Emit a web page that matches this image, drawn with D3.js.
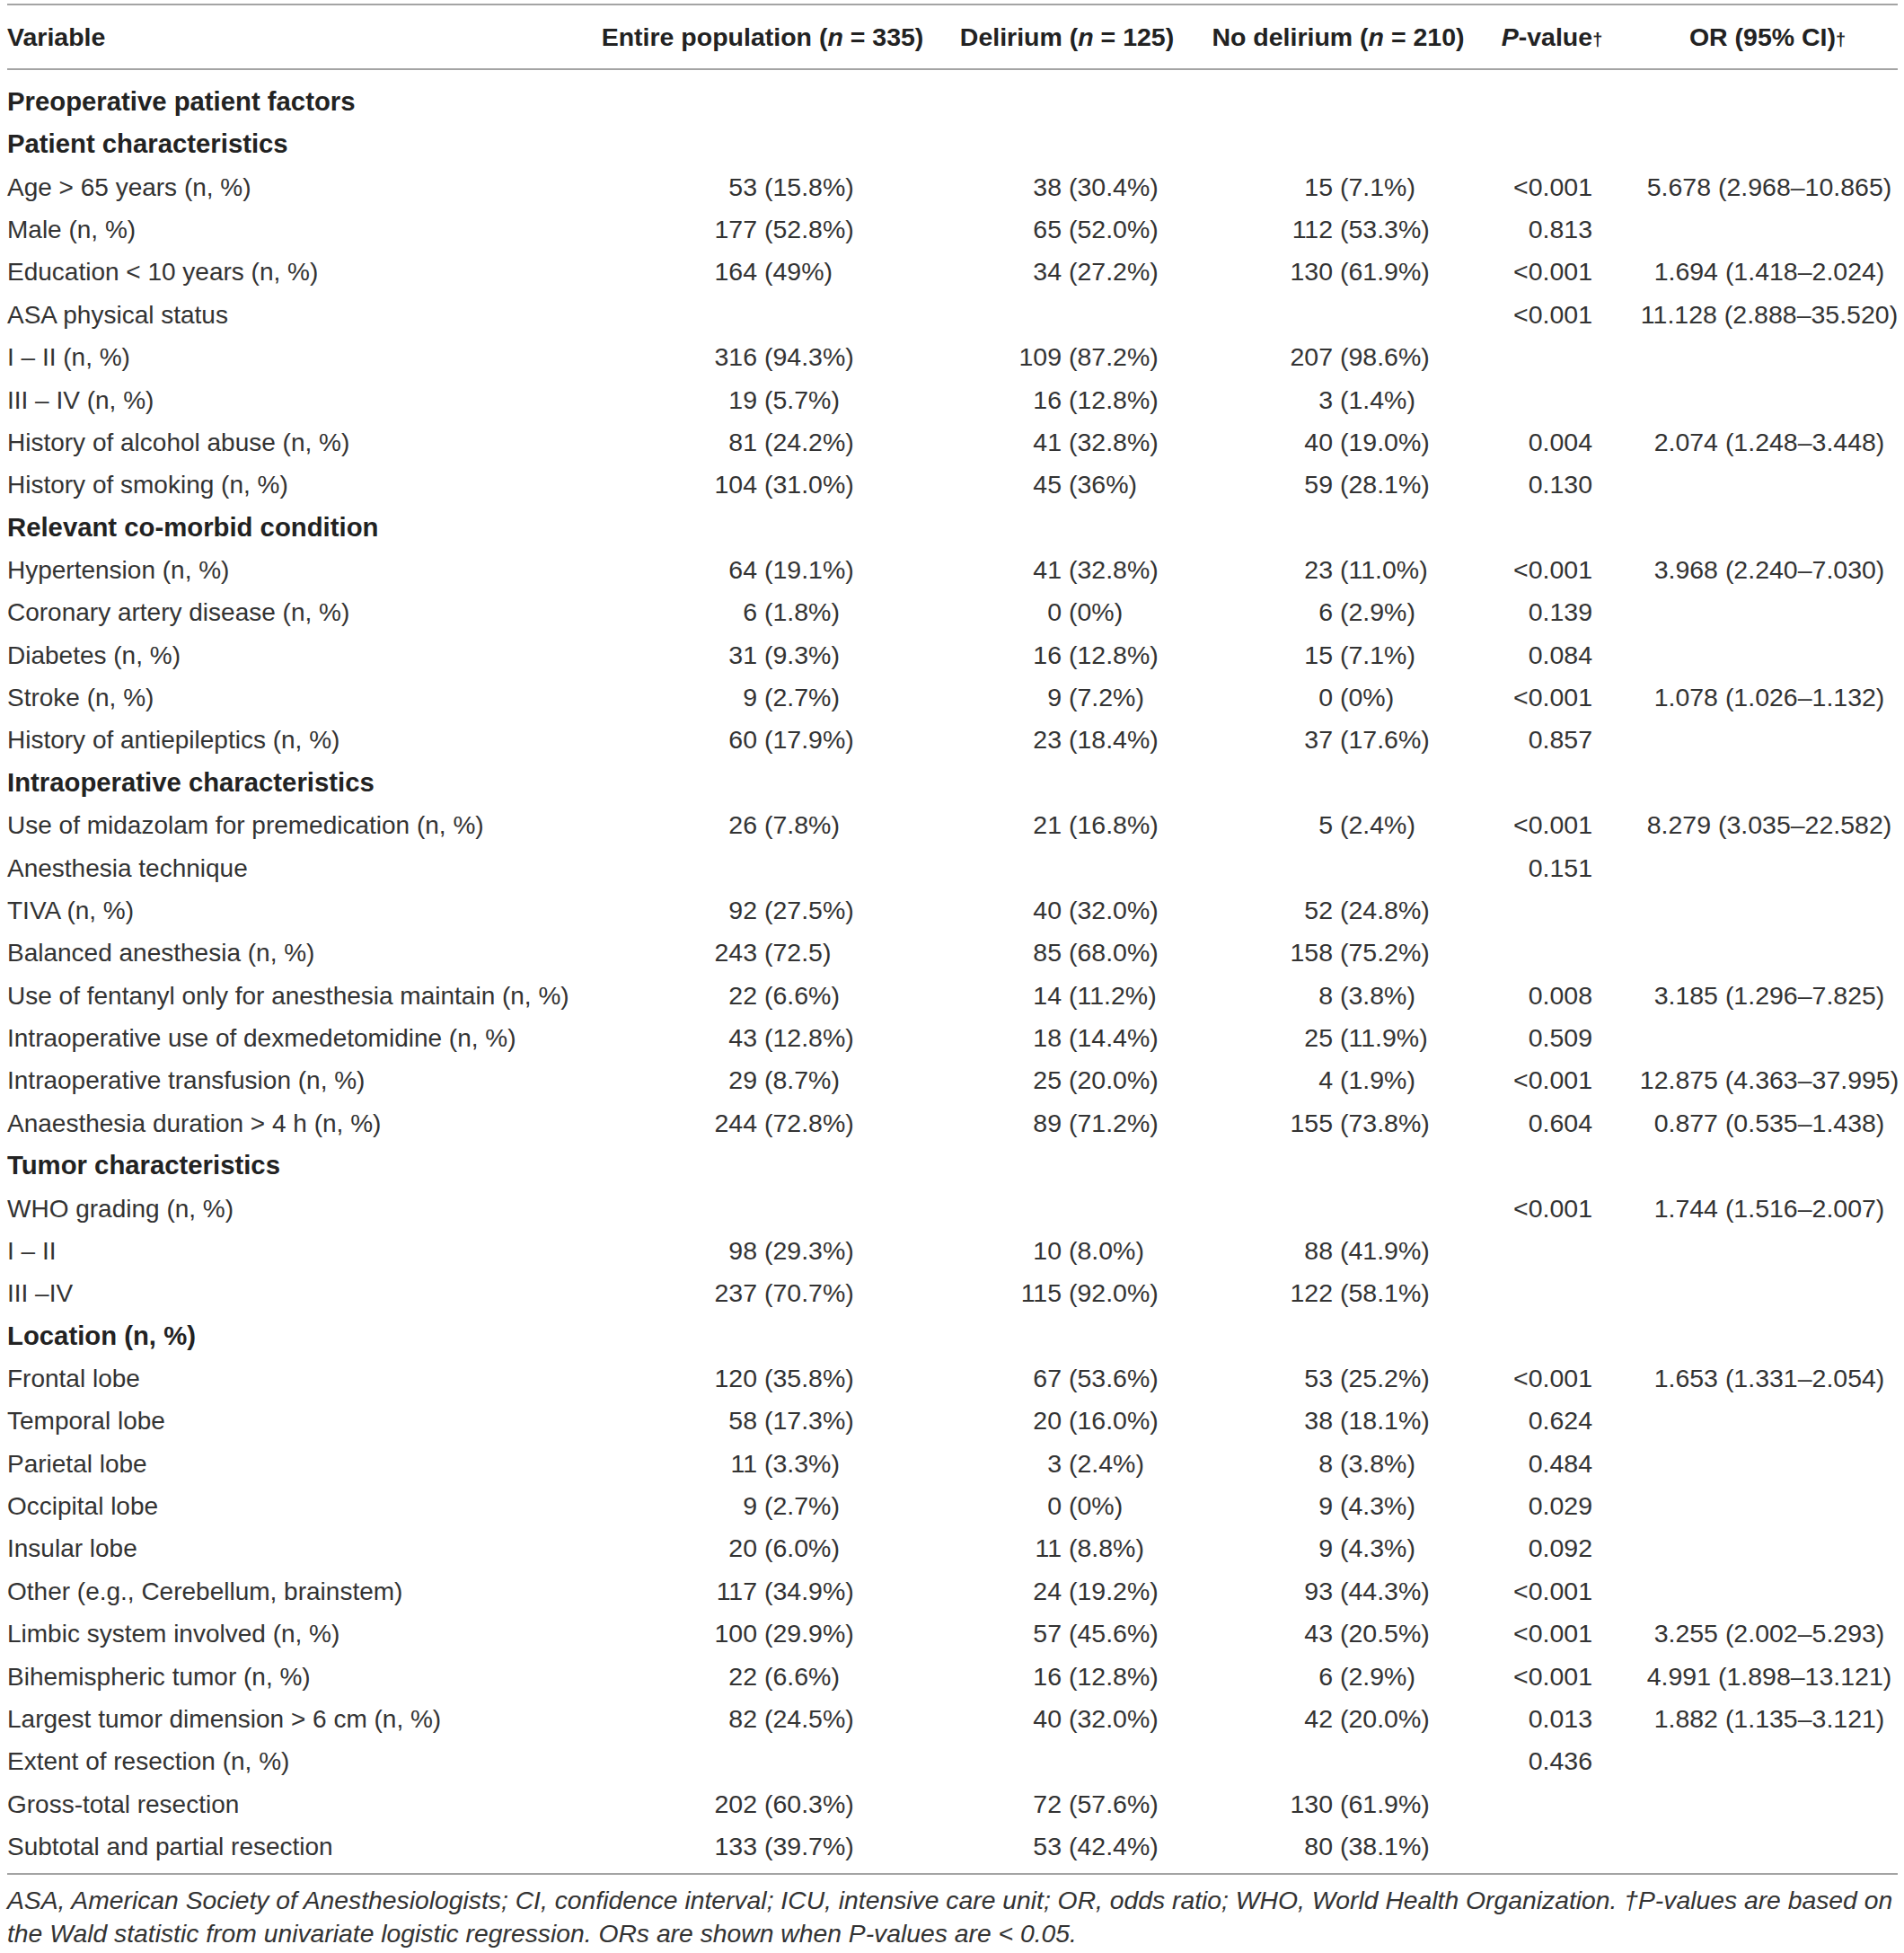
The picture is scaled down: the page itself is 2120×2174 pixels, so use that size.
<!DOCTYPE html>
<html>
<head>
<meta charset="utf-8">
<script src="https://cdn.jsdelivr.net/npm/d3@7"></script>
<style>
  body { margin: 0; background: #fff; }
  text { font-family: "Liberation Sans", Arial, sans-serif; }
</style>
</head>
<body>
<div id="chart"></div>
<script>
var variables = [
  "Preoperative patient factors",
  "Patient characteristics",
  "Age > 65 years (n, %)",
  "Male (n, %)",
  "Education < 10 years (n, %)",
  "ASA physical status",
  "I – II (n, %)",
  "III – IV (n, %)",
  "History of alcohol abuse (n, %)",
  "History of smoking (n, %)",
  "Relevant co-morbid condition",
  "Hypertension (n, %)",
  "Coronary artery disease (n, %)",
  "Diabetes (n, %)",
  "Stroke (n, %)",
  "History of antiepileptics (n, %)",
  "Intraoperative characteristics",
  "Use of midazolam for premedication (n, %)",
  "Anesthesia technique",
  "TIVA (n, %)",
  "Balanced anesthesia (n, %)",
  "Use of fentanyl only for anesthesia maintain (n, %)",
  "Intraoperative use of dexmedetomidine (n, %)",
  "Intraoperative transfusion (n, %)",
  "Anaesthesia duration > 4 h (n, %)",
  "Tumor characteristics",
  "WHO grading (n, %)",
  "I – II",
  "III –IV",
  "Location (n, %)",
  "Frontal lobe",
  "Temporal lobe",
  "Parietal lobe",
  "Occipital lobe",
  "Insular lobe",
  "Other (e.g., Cerebellum, brainstem)",
  "Limbic system involved (n, %)",
  "Bihemispheric tumor (n, %)",
  "Largest tumor dimension > 6 cm (n, %)",
  "Extent of resection (n, %)",
  "Gross-total resection",
  "Subtotal and partial resection"
];

// section heading rows (bold)
var sections = [
  "Preoperative patient factors",
  "Patient characteristics",
  "Relevant co-morbid condition",
  "Intraoperative characteristics",
  "Tumor characteristics",
  "Location (n, %)"
];

var entire = [
  "", "", "53 (15.8%)", "177 (52.8%)", "164 (49%)", "", "316 (94.3%)", "19 (5.7%)",
  "81 (24.2%)", "104 (31.0%)", "", "64 (19.1%)", "6 (1.8%)", "31 (9.3%)", "9 (2.7%)",
  "60 (17.9%)", "", "26 (7.8%)", "", "92 (27.5%)", "243 (72.5)", "22 (6.6%)",
  "43 (12.8%)", "29 (8.7%)", "244 (72.8%)", "", "", "98 (29.3%)", "237 (70.7%)", "",
  "120 (35.8%)", "58 (17.3%)", "11 (3.3%)", "9 (2.7%)", "20 (6.0%)", "117 (34.9%)",
  "100 (29.9%)", "22 (6.6%)", "82 (24.5%)", "", "202 (60.3%)", "133 (39.7%)"
];

var delirium = [
  "", "", "38 (30.4%)", "65 (52.0%)", "34 (27.2%)", "", "109 (87.2%)", "16 (12.8%)",
  "41 (32.8%)", "45 (36%)", "", "41 (32.8%)", "0 (0%)", "16 (12.8%)", "9 (7.2%)",
  "23 (18.4%)", "", "21 (16.8%)", "", "40 (32.0%)", "85 (68.0%)", "14 (11.2%)",
  "18 (14.4%)", "25 (20.0%)", "89 (71.2%)", "", "", "10 (8.0%)", "115 (92.0%)", "",
  "67 (53.6%)", "20 (16.0%)", "3 (2.4%)", "0 (0%)", "11 (8.8%)", "24 (19.2%)",
  "57 (45.6%)", "16 (12.8%)", "40 (32.0%)", "", "72 (57.6%)", "53 (42.4%)"
];

var noDelirium = [
  "", "", "15 (7.1%)", "112 (53.3%)", "130 (61.9%)", "", "207 (98.6%)", "3 (1.4%)",
  "40 (19.0%)", "59 (28.1%)", "", "23 (11.0%)", "6 (2.9%)", "15 (7.1%)", "0 (0%)",
  "37 (17.6%)", "", "5 (2.4%)", "", "52 (24.8%)", "158 (75.2%)", "8 (3.8%)",
  "25 (11.9%)", "4 (1.9%)", "155 (73.8%)", "", "", "88 (41.9%)", "122 (58.1%)", "",
  "53 (25.2%)", "38 (18.1%)", "8 (3.8%)", "9 (4.3%)", "9 (4.3%)", "93 (44.3%)",
  "43 (20.5%)", "6 (2.9%)", "42 (20.0%)", "", "130 (61.9%)", "80 (38.1%)"
];

var pValues = [
  "", "", "<0.001", "0.813", "<0.001", "<0.001", "", "", "0.004", "0.130", "",
  "<0.001", "0.139", "0.084", "<0.001", "0.857", "", "<0.001", "0.151", "", "",
  "0.008", "0.509", "<0.001", "0.604", "", "<0.001", "", "", "", "<0.001", "0.624",
  "0.484", "0.029", "0.092", "<0.001", "<0.001", "<0.001", "0.013", "0.436", "", ""
];

var orValues = [
  "", "", "5.678 (2.968–10.865)", "", "1.694 (1.418–2.024)", "11.128 (2.888–35.520)",
  "", "", "2.074 (1.248–3.448)", "", "", "3.968 (2.240–7.030)", "", "",
  "1.078 (1.026–1.132)", "", "", "8.279 (3.035–22.582)", "", "", "", "3.185 (1.296–7.825)",
  "", "12.875 (4.363–37.995)", "0.877 (0.535–1.438)", "", "1.744 (1.516–2.007)", "", "",
  "", "1.653 (1.331–2.054)", "", "", "", "", "", "3.255 (2.002–5.293)",
  "4.991 (1.898–13.121)", "1.882 (1.135–3.121)", "", "", ""
];

var footnotes = [
  "ASA, American Society of Anesthesiologists; CI, confidence interval; ICU, intensive care unit; OR, odds ratio; WHO, World Health Organization. †P-values are based on",
  "the Wald statistic from univariate logistic regression. ORs are shown when P-values are < 0.05."
];

var width = 2120;
var height = 2174;
var fontSize = 28.5;
var labelSize = 28;
var sectionSize = 29.3;
var textColor = "#333";
var boldColor = "#222";
var ruleColor = "#a4a4a4";
var left = 8, right = 2113;

var svg = d3.select("#chart").append("svg")
  .attr("width", width)
  .attr("height", height)
  .style("font-size", fontSize + "px");

var yScale = d3.scalePoint()
  .domain(d3.range(variables.length))
  .range([123, 2065]);

// header
var header = svg.append("g").attr("class", "header")
  .attr("font-weight", "bold")
  .attr("fill", boldColor);

header.append("text").attr("x", left).attr("y", 51).text("Variable");

function nHeader(x, label, n) {
  var t = header.append("text").attr("x", x).attr("y", 51).attr("text-anchor", "middle");
  t.append("tspan").text(label + " (");
  t.append("tspan").attr("font-style", "italic").text("n");
  t.append("tspan").text(" = " + n + ")");
}
nHeader(849, "Entire population", 335);
nHeader(1188, "Delirium", 125);
nHeader(1490, "No delirium", 210);

var ph = header.append("text").attr("x", 1728).attr("y", 51).attr("text-anchor", "middle");
ph.append("tspan").attr("font-style", "italic").text("P");
ph.append("tspan").text("-value");
ph.append("tspan").attr("font-size", "20px").text("†");

var oh = header.append("text").attr("x", 1968).attr("y", 51).attr("text-anchor", "middle");
oh.append("tspan").text("OR (95% CI)");
oh.append("tspan").attr("font-size", "20px").text("†");

// rules
[5, 77, 2086].forEach(function(y) {
  svg.append("line")
    .attr("x1", left).attr("x2", right)
    .attr("y1", y).attr("y2", y)
    .attr("stroke", ruleColor)
    .attr("stroke-width", 2);
});

var body = svg.append("g").attr("class", "rows").attr("fill", textColor);

body.selectAll(".label")
  .data(variables).enter()
  .append("text")
  .attr("class", "label")
  .attr("x", left)
  .attr("y", (d, i) => yScale(i))
  .attr("font-weight", d => sections.indexOf(d) >= 0 ? "bold" : "normal")
  .attr("fill", d => sections.indexOf(d) >= 0 ? boldColor : textColor)
  .style("font-size", d => (sections.indexOf(d) >= 0 ? sectionSize : labelSize) + "px")
  .text(d => d);

// count columns aligned on the opening parenthesis
var countColumns = [
  {values: entire, paren: 851},
  {values: delirium, paren: 1190},
  {values: noDelirium, paren: 1492}
];
var gap = fontSize * 0.278;

countColumns.forEach(function(col) {
  var g = body.append("g");
  var cells = col.values.map((v, i) => ({v: v, i: i})).filter(d => d.v !== "");
  g.selectAll(".num")
    .data(cells).enter()
    .append("text")
    .attr("x", col.paren - gap)
    .attr("y", d => yScale(d.i))
    .attr("text-anchor", "end")
    .text(d => d.v.split(" ")[0]);
  g.selectAll(".pct")
    .data(cells).enter()
    .append("text")
    .attr("x", col.paren)
    .attr("y", d => yScale(d.i))
    .text(d => d.v.slice(d.v.indexOf(" ") + 1));
});

body.selectAll(".pval")
  .data(pValues).enter()
  .append("text")
  .attr("class", "pval")
  .attr("x", 1773)
  .attr("y", (d, i) => yScale(i))
  .attr("text-anchor", "end")
  .text(d => d);

body.selectAll(".or")
  .data(orValues).enter()
  .append("text")
  .attr("class", "or")
  .attr("x", 1970)
  .attr("y", (d, i) => yScale(i))
  .attr("text-anchor", "middle")
  .text(d => d);

// footnote
svg.append("g").attr("fill", textColor)
  .attr("font-style", "italic")
  .style("font-size", "28.3px")
  .selectAll("text")
  .data(footnotes).enter()
  .append("text")
  .attr("x", left)
  .attr("y", (d, i) => 2125 + i * 37)
  .text(d => d);
</script>
</body>
</html>
